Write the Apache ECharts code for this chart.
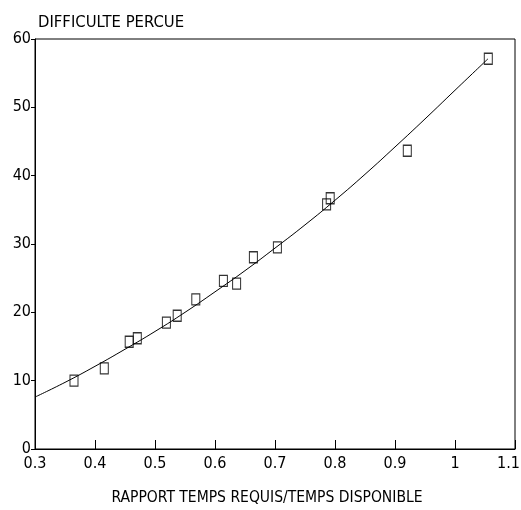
<!DOCTYPE html>
<html>
<head>
<meta charset="utf-8">
<script src="https://cdn.jsdelivr.net/npm/echarts@6/dist/echarts.min.js"></script>
<style>html,body{margin:0;padding:0;background:#fff;}#c{width:521px;height:510px;}</style>
</head>
<body>
<div id="c"></div>
<script>
const yTitle = "DIFFICULTE PERCUE";
const xTitle = "RAPPORT TEMPS REQUIS/TEMPS DISPONIBLE";
const obsX = [0.365, 0.4155, 0.457, 0.4705, 0.519, 0.537, 0.568, 0.614, 0.636, 0.664, 0.704, 0.786, 0.792, 0.9205, 1.0555];
const obsY = [10.0, 11.8, 15.7, 16.2, 18.5, 19.5, 21.9, 24.6, 24.2, 28.05, 29.5, 35.8, 36.7, 43.65, 57.1];
const curveX = [0.30, 0.35, 0.40, 0.45, 0.50, 0.55, 0.60, 0.65, 0.70, 0.75, 0.80, 0.85, 0.90, 0.95, 1.00, 1.055];
const curveY = [7.6, 9.75, 12.1, 14.6, 17.2, 20.0, 23.0, 26.1, 29.4, 32.8, 36.4, 40.2, 44.2, 48.3, 52.5, 57.1];

const FONT = "'Liberation Sans Narrow', 'DejaVu Sans Condensed', 'Liberation Sans', sans-serif";
const chart = echarts.init(document.getElementById('c'), null, {renderer: 'canvas'});
chart.setOption({
  animation: false,
  backgroundColor: '#fff',
  title: {
    text: yTitle, left: 33, top: 9,
    textStyle: {fontFamily: FONT, fontSize: 16.5, fontWeight: 'normal', color: '#000'}
  },
  grid: {left: 35, right: 6, top: 39, bottom: 61, containLabel: false, outerBoundsMode: 'none',
    show: true, borderColor: '#000', borderWidth: 1, backgroundColor: 'transparent'},
  xAxis: {
    type: 'value', min: 0.3, max: 1.1, interval: 0.1,
    name: xTitle, nameLocation: 'middle', nameGap: 41,
    nameTextStyle: {fontFamily: FONT, fontSize: 15.5, color: '#000', padding: [0, 16, 0, 0]},
    axisLine: {show: true, lineStyle: {color: '#000', width: 1}},
    axisTick: {show: true, inside: true, length: 9, lineStyle: {color: '#000'}},
    axisLabel: {fontFamily: FONT, fontSize: 16, color: '#000', margin: 7,
      formatter: v => {
        const s = String(Math.round(v * 10) / 10);
        return v > 1.05 ? '{m|' + s + '}' : s;
      },
      rich: {m: {fontFamily: FONT, fontSize: 16, color: '#000', padding: [0, 13, 0, 0]}}
    },
    splitLine: {show: false}
  },
  yAxis: {
    type: 'value', min: 0, max: 60, interval: 10,
    axisLine: {show: true, lineStyle: {color: '#000', width: 1}},
    axisTick: {show: true, inside: false, length: 4, lineStyle: {color: '#000'}},
    axisLabel: {fontFamily: FONT, fontSize: 16, color: '#000', margin: 4},
    splitLine: {show: false}
  },
  series: [
    {
      type: 'line', data: curveX.map((x, i) => [x, curveY[i]]),
      smooth: true, showSymbol: false, symbol: 'none',
      lineStyle: {color: '#000', width: 1}
    },
    {
      type: 'scatter', data: obsX.map((x, i) => [x, obsY[i]]),
      symbol: 'rect', symbolSize: [8, 11],
      itemStyle: {color: 'rgba(255,255,255,0)', borderColor: '#000', borderWidth: 1.2}
    }
  ]
});
</script>
</body>
</html>
